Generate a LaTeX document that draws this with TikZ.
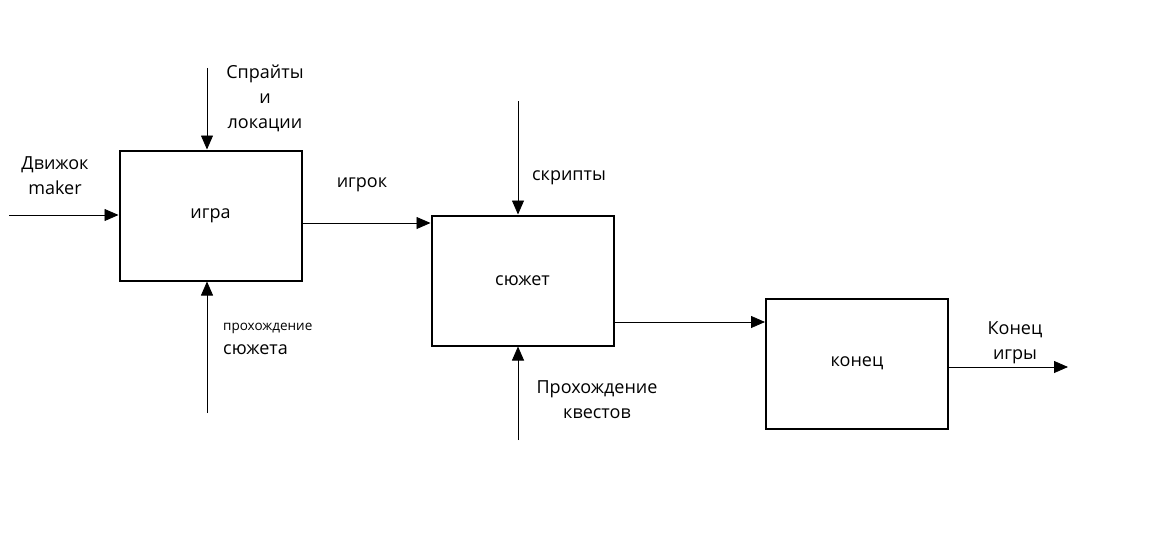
\documentclass[tikz,border=0pt]{standalone}
\usepackage{fontspec}
\setmainfont{Open Sans}
\usetikzlibrary{arrows.meta,positioning}

\begin{document}
\begin{tikzpicture}[x=1pt, y=-1pt, node distance=312pt]
    \tikzstyle{block} = [rectangle, minimum width=182pt, minimum height=130pt, line width=2pt, draw=black, font=\fontsize{18}{25}\selectfont]
    \tikzstyle{arrow} = [line width=0.8pt, -{Triangle[length=14pt, width=12pt]}]
    \tikzstyle{note} = [align=center, inner sep=0pt, font=\fontsize{18}{25}\selectfont]

    \useasboundingbox (0,0) rectangle (1156,535);

    \node (game) [block] at (210.5,215.5) {игра};

    \node (plot) [block, right of=game, yshift=-65pt] {сюжет};

    \node (finale) [block, right of=plot, xshift=22.5pt, yshift=-83pt] {конец};

    \coordinate (engine) at (9,215);
    \coordinate (sprites) at (207,68);
    \coordinate (progress) at (207,413);
    \coordinate (scripts) at (518,101);
    \coordinate (quests) at (518,440);
    \coordinate (gameend) at (1068,367);
    \coordinate (gameout) at ([yshift=-7.5pt]game.east);
    \coordinate (plotout) at ([yshift=-41.5pt]plot.east);

    \draw [arrow] (engine) -- (engine -| game.west);
    \draw [arrow] (sprites) -- (sprites |- game.north);
    \draw [arrow] (progress) -- (progress |- game.south);
    \draw [arrow] (gameout) -- (gameout -| plot.west);
    \draw [arrow] (scripts) -- (scripts |- plot.north);
    \draw [arrow] (quests) -- (quests |- plot.south);
    \draw [arrow] (plotout) -- (plotout -| finale.west);
    \draw [arrow] (gameend -| finale.east) -- (gameend);

    \node [note] at (265,98) {Спрайты\\и\\локации};
    \node [note] at (55,175.5) {Движок\\maker};
    \node [note] at (362,185) {игрок};
    \node [note, anchor=west, font=\fontsize{13.5}{15}\selectfont] at (223,328) {прохождение};
    \node [note, anchor=west] at (223,350) {сюжета};
    \node [note] at (569,178) {скрипты};
    \node [note] at (597,400) {Прохождение\\квестов};
    \node [note] at (1015,342.5) {Конец\\игры};

\end{tikzpicture}
\end{document}
